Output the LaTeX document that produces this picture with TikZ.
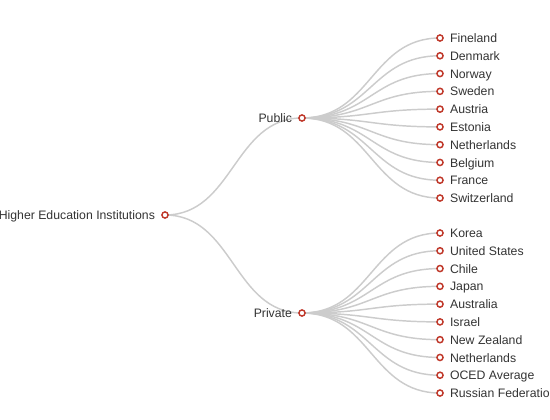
\documentclass[tikz,border=0pt]{standalone}
\usepackage{fontspec}
\setmainfont{Liberation Sans}
\usetikzlibrary{calc,backgrounds}
\definecolor{linkgray}{HTML}{CCCCCC}
\definecolor{nodered}{HTML}{C0392B}
\definecolor{textgray}{HTML}{333333}
\tikzset{
  dot/.style={circle,draw=nodered,fill=white,line width=1.1pt,inner sep=0pt,minimum size=4.6pt},
  lbl/.style={font=\fontsize{9.2pt}{11pt}\selectfont,text=textgray,inner sep=0pt,
    text height=1.6ex,text depth=.3ex},
  branch/.style={draw=linkgray,line width=1.1pt,
    to path={let \p1=(\tikztostart), \p2=(\tikztotarget) in
      .. controls ({(\x1+\x2)/2},\y1) and ({(\x1+\x2)/2},\y2) .. (\tikztotarget)}}
}
\begin{document}
\begin{tikzpicture}[x=0.75pt,y=-0.75pt]
\useasboundingbox (0,0) rectangle (550,420);
\clip (0,0) rectangle (550,420);
% root and the two branches
\node[dot,label={[lbl,label distance=4.5pt]left:Higher Education Institutions}] (hei) at (165,215) {};
\node[dot,label={[lbl,label distance=4.5pt]left:Public}] (pub) at (302,118) {};
\node[dot,label={[lbl,label distance=4.5pt]left:Private}] (pri) at (302,313) {};
% leaves
\foreach \name [count=\i from 0] in {Fineland,Denmark,Norway,Sweden,Austria,Estonia,Netherlands,Belgium,France,Switzerland}
  \node[dot,label={[lbl,label distance=4.5pt]right:\name}] (pub\i) at (440,{38+\i*17.78}) {};
\foreach \name [count=\i from 0] in {Korea,United States,Chile,Japan,Australia,Israel,New Zealand,Netherlands,OCED Average,Russian Federation}
  \node[dot,label={[lbl,label distance=4.5pt]right:\name}] (pri\i) at (440,{233+\i*17.78}) {};
% links
\begin{scope}[on background layer]
\draw[branch] (hei.center) to (pub.center);
\draw[branch] (hei.center) to (pri.center);
\foreach \i in {0,...,9} {
  \draw[branch] (pub.center) to (pub\i.center);
  \draw[branch] (pri.center) to (pri\i.center);
}
\end{scope}
\end{tikzpicture}
\end{document}
